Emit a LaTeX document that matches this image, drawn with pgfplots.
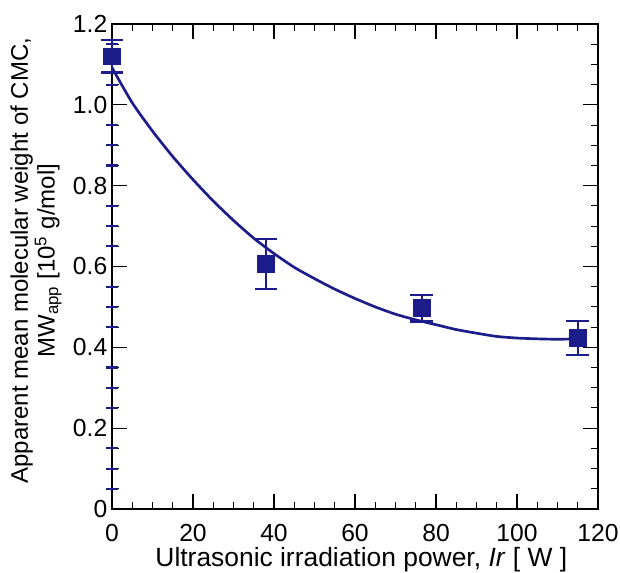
\documentclass[border=0pt]{standalone}
\usepackage{pgfplots}
\pgfplotsset{compat=1.18}
\usepackage{fontspec}
\setmainfont{Liberation Sans}
\definecolor{navy}{RGB}{28,28,138}
\pgfplotstableread{
x y err
0 1.120 0.040
38 0.606 0.061
76.5 0.497 0.033
115 0.424 0.042
}\datatable
\pgfplotstableread{
x y
0 1.092
5 1.005
10 0.935
15 0.872
20 0.815
25 0.762
30 0.714
35 0.670
40 0.632
45 0.598
50 0.570
55 0.544
60 0.521
65 0.500
70 0.482
75 0.468
80 0.456
85 0.444
90 0.435
95 0.427
100 0.423
105 0.421
110 0.420
115 0.421
}\fittable
\begin{document}
\begin{tikzpicture}
\useasboundingbox (-84pt,-47.25pt) rectangle (381pt,381.75pt);
\begin{axis}[
  name=main, at={(0,0)}, anchor=south west,
  width=364.5pt, height=363.75pt, scale only axis,
  xmin=0, xmax=120, ymin=0, ymax=1.2,
  xtick={0,20,...,120}, ytick={0,0.2,0.4,0.6,0.8,1.0,1.2},
  yticklabels={0,0.2,0.4,0.6,0.8,1.0,1.2},
  minor x tick num=3, minor y tick num=3,
  tick align=inside, major tick length=11pt, minor tick length=5.5pt,
  tick style={black, line width=0.8pt},
  axis line style={line width=2pt},
  /pgf/number format/assume math mode=true,
  ticklabel style={font=\fontsize{18.5}{18.5}\selectfont},
  xticklabel style={anchor=base, yshift=-24.25pt, inner sep=0pt},
  xlabel={Ultrasonic irradiation power, \textit{Ir} [ W ]},
  xlabel style={at={(axis description cs:0.513,0)}, anchor=base, yshift=-42.75pt, inner sep=0pt, font=\fontsize{19.8}{22}\selectfont},
  ylabel={Apparent mean molecular weight of CMC,\\ MW\textsubscript{app} [10\textsuperscript{5} g/mol]},
  ylabel style={align=center, at={(axis description cs:-0.094,0.512)}, anchor=south, font=\fontsize{18}{20}\selectfont},
  clip=false,
]
\addplot[navy, line width=2pt, smooth, tension=0.4] table[x=x,y=y] {\fittable};
\addplot[navy, only marks, mark=square*, mark size=6.3pt,
  error bars/.cd, y dir=both, y explicit,
  error bar style={line width=1.6pt, navy},
  error mark options={rotate=90, mark size=8.5pt, line width=1.6pt, navy}]
  table[x=x, y=y, y error=err] {\datatable};
\end{axis}
\begin{axis}[
  at={(0,0)}, anchor=south west,
  width=364.5pt, height=363.75pt, scale only axis,
  xmin=0, xmax=120, ymin=0, ymax=1.2,
  axis x line=none, axis y line*=left,
  y axis line style={draw=none},
  ytick={0,0.2,0.4,0.6,0.8,1.0,1.2}, yticklabels={},
  minor y tick num=3,
  major tick style={draw=none},
  minor tick style={navy, line width=1.6pt},
  tick align=center, minor tick length=9pt,
]
\end{axis}
\end{tikzpicture}
\end{document}
